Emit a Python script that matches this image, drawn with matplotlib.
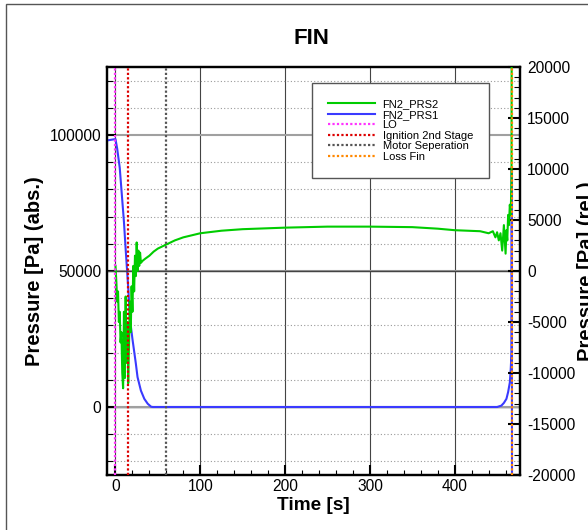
import numpy as np
import matplotlib
matplotlib.use('Agg')
import matplotlib.pyplot as plt
from matplotlib.ticker import MultipleLocator
from matplotlib.lines import Line2D
from matplotlib.patches import Rectangle

plt.rcParams['font.family'] = ['Liberation Sans', 'DejaVu Sans']
plt.rcParams['axes.unicode_minus'] = False

# FN2_PRS2 (relative pressure, right axis)
t_prs2 = [0, 1, 2, 3, 4, 5, 6, 7, 8, 9, 10, 11, 12, 13, 14, 15, 16, 17, 18, 19,
          20, 21, 22, 23, 24, 25, 26, 27, 28, 29, 30, 32, 35, 40, 45, 50, 60, 70,
          80, 100, 125, 150, 200, 250, 300, 350, 380, 400, 430, 440, 445, 448,
          450, 452, 454, 456, 458, 460, 461, 462, 463, 464, 465, 466, 467, 467.3]
p_prs2 = [500, -1000, -3000, -2000, -5000, -4000, -7000, -6000, -10000, -11500,
          -4000, -10500, -2500, -9000, -5000, -11000, -7000, -3000, -6000, -1500,
          -4000, 500, -2000, 1500, -500, 2800, 0, 2000, 500, 1800, 800, 1000, 1200,
          1500, 1900, 2200, 2600, 3000, 3300, 3700, 3950, 4100, 4250, 4350, 4350,
          4300, 4150, 4000, 3900, 3700, 3900, 3300, 3800, 3000, 3700, 2000, 4500,
          1700, 4000, 3000, 5500, 4500, 6500, 5500, 9000, 30000]

# FN2_PRS1 (absolute pressure, left axis)
t_prs1 = [-10, 0, 2, 5, 8, 10, 12, 15, 17, 18, 20, 24, 26, 30, 34, 38, 42, 44,
          100, 200, 300, 400, 450, 455, 458, 461, 463, 465, 466, 467, 467.3, 467.6]
p_prs1 = [98000, 98500, 95000, 88000, 76000, 68000, 58000, 44000, 33000, 30000,
          25000, 16000, 11000, 6000, 3000, 1200, 100, 0, 0, 0, 0, 0, 0, 500, 1500,
          3000, 5500, 9000, 13500, 20000, 88000, -40000]

# events
event_names = ['LO', 'Ignition 2nd Stage', 'Motor Seperation', 'Loss Fin']
event_times = [0, 15, 60, 467]
event_colors = ['#ff33ff', '#dd0000', '#555555', '#ff8800']

fig = plt.figure(figsize=(5.88, 5.30), dpi=100)
fig.patches.append(Rectangle((6 / 588, -0.1), 1.2, 1 - 4 / 530 + 0.1,
                             transform=fig.transFigure, fill=False,
                             edgecolor='#555555', lw=1))
ax = fig.add_axes([107 / 588, 1 - 475 / 530, 413 / 588, 408 / 530])
ax2 = ax.twinx()

ax.set_xlim(-10, 477)
ax.set_ylim(-25000, 125000)
ax2.set_ylim(-20000, 20000)

ax.xaxis.set_major_locator(MultipleLocator(100))
ax.xaxis.set_minor_locator(MultipleLocator(20))
ax.yaxis.set_major_locator(MultipleLocator(50000))
ax.yaxis.set_minor_locator(MultipleLocator(10000))
ax2.yaxis.set_major_locator(MultipleLocator(5000))
ax2.yaxis.set_minor_locator(MultipleLocator(1000))

# grid
ax.grid(which='minor', axis='y', color='#9a9a9a', lw=0.8, ls=(0, (1, 2)))
ax.grid(which='major', axis='y', color='#a0a0a0', lw=1.5, ls='-')
ax.grid(which='major', axis='x', color='#444444', lw=0.8, ls='-')
ax.axhline(0, color='#444444', lw=1.0, zorder=1)
ax2.axhline(0, color='#444444', lw=1.0, zorder=1)

l1, = ax.plot(t_prs1, p_prs1, color='#3a3aff', lw=1.5, zorder=3)
l2, = ax2.plot(t_prs2, p_prs2, color='#00cc00', lw=1.5, zorder=3)

ev_handles = []
for name, tt, cc in zip(event_names, event_times, event_colors):
    ax2.axvline(tt, color=cc, lw=1.6, ls=(0, (1, 1)), zorder=4)
    ev_handles.append(Line2D([], [], color=cc, lw=1.6, ls=(0, (1, 1))))

for a in (ax, ax2):
    for s in a.spines.values():
        s.set_linewidth(1.6)
        s.set_color('black')

ax.tick_params(axis='y', which='major', direction='in', length=6.5, width=1.5,
               labelsize=11.2, pad=4)
ax.tick_params(axis='y', which='minor', direction='in', length=4.3, width=0.8)
ax.tick_params(axis='x', which='major', direction='in', length=7.2, width=1.5,
               labelsize=11.2, pad=3)
ax.tick_params(axis='x', which='minor', direction='in', length=3.6, width=0.8)
ax2.tick_params(axis='y', which='major', direction='in', length=8.6, width=1.5,
                labelsize=11.2, pad=5)
ax2.tick_params(axis='y', which='minor', direction='in', length=4.3, width=0.8)

ax.set_xlabel('Time [s]', fontsize=13.7, fontweight='bold', labelpad=2)
ax.set_ylabel('Pressure [Pa] (abs.)', fontsize=14.5, fontweight='bold', labelpad=4)
ax2.set_ylabel('Pressure [Pa] (rel.)', fontsize=14.5, fontweight='bold', labelpad=1)
fig.text(311 / 588, 1 - 38 / 530, 'FIN', fontsize=16, fontweight='bold',
         ha='center', va='center')

leg = ax2.legend([l2, l1] + ev_handles, ['FN2_PRS2', 'FN2_PRS1'] + event_names,
                 loc='upper left', bbox_to_anchor=(312 / 588, 1 - 83 / 530),
                 bbox_transform=fig.transFigure, borderaxespad=0,
                 fontsize=8, handlelength=4.2, handletextpad=0.7,
                 borderpad=1.45, labelspacing=0.05, fancybox=False,
                 framealpha=1, edgecolor='#555555')
leg.get_frame().set_linewidth(1.0)

fig.savefig('out.png', dpi=100)
